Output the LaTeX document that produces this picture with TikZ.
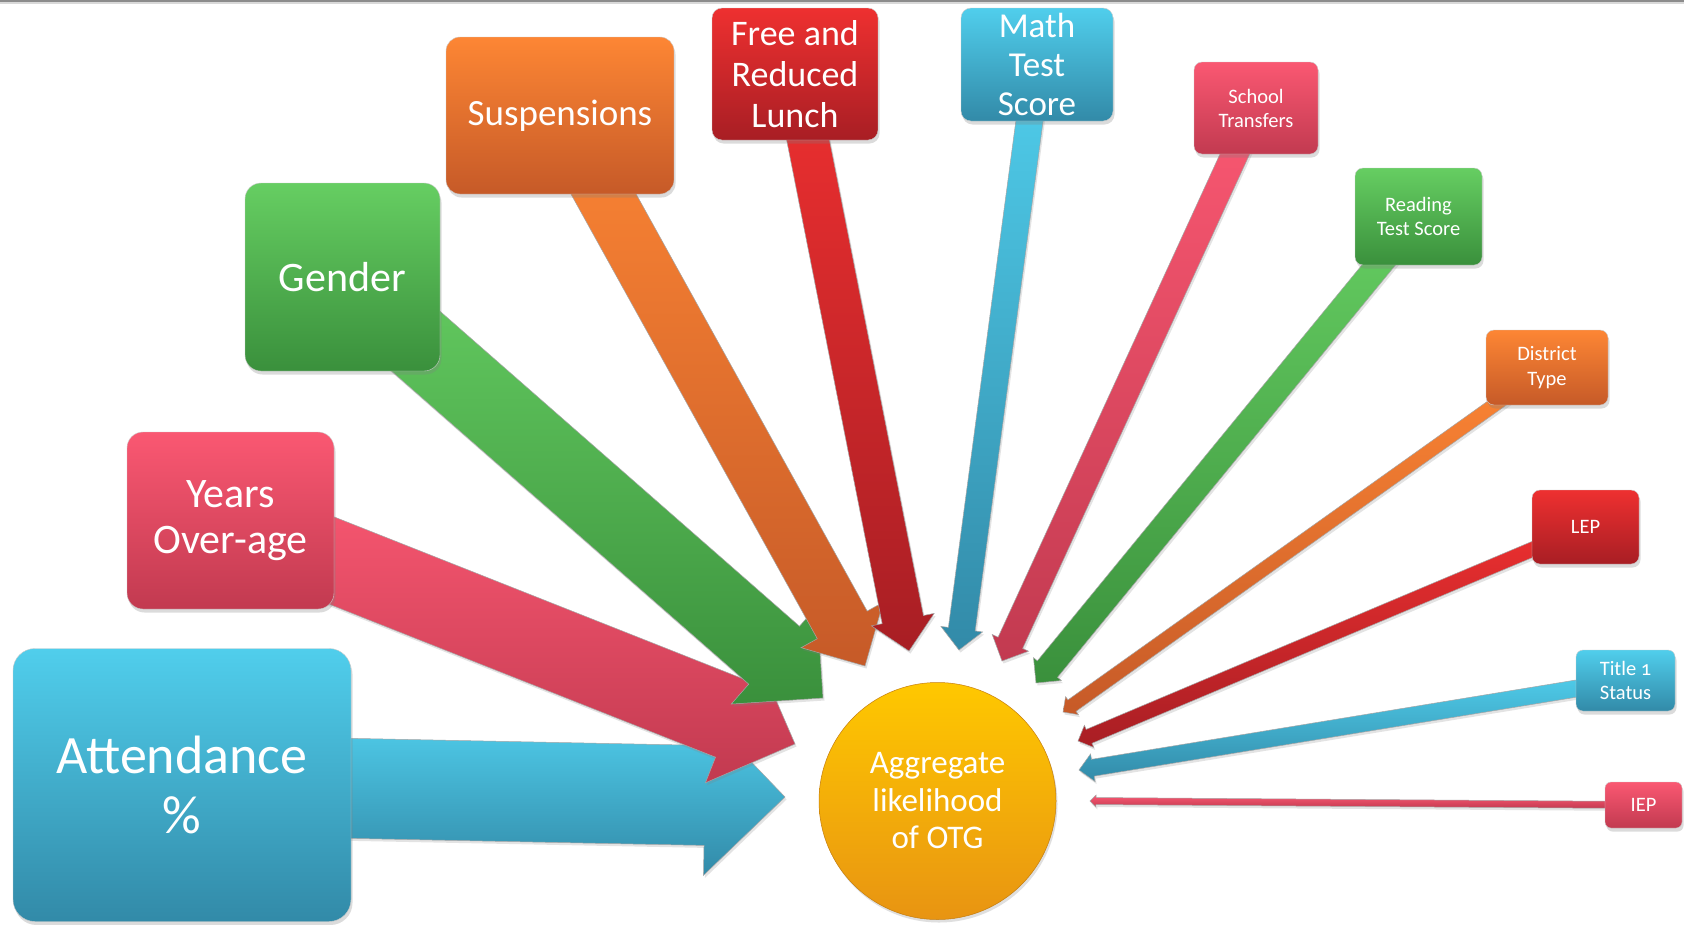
\documentclass[tikz,border=0pt]{standalone}
\usepackage{fontspec}
\setmainfont{Carlito}
\usetikzlibrary{calc,shadows}
\pgfdeclarelayer{arrows}
\pgfsetlayers{arrows,main}

\definecolor{blueT}{RGB}{80,206,236}
\definecolor{blueB}{RGB}{50,138,168}
\definecolor{pinkT}{RGB}{250,88,114}
\definecolor{pinkB}{RGB}{194,58,80}
\definecolor{greenT}{RGB}{102,206,98}
\definecolor{greenB}{RGB}{58,144,60}
\definecolor{orangeT}{RGB}{253,134,52}
\definecolor{orangeB}{RGB}{198,90,40}
\definecolor{redT}{RGB}{238,48,48}
\definecolor{redB}{RGB}{168,30,36}
\definecolor{goldT}{RGB}{255,200,0}
\definecolor{goldB}{RGB}{232,148,18}

\newcommand{\fs}[2]{\fontsize{#1}{#2}\selectfont}

% block arrow: #1 source node, #2 tip, #3 half shaft width, #4 head size, #5 style
\newcommand{\fatarrow}[5]{%
  \coordinate (fa-base) at ($(#2)!#4!(#1.center)$);
  \path[#5] ($(#1.center)!#3!90:(#2)$) -- ($(fa-base)!#3!90:(#2)$)
     -- ($(fa-base)!#4!90:(#2)$) -- (#2)
     -- ($(fa-base)!#4!-90:(#2)$) -- ($(fa-base)!#3!-90:(#2)$)
     -- ($(#1.center)!#3!-90:(#2)$) -- cycle;
}

\tikzset{
  factor/.style={inner sep=0pt, text=white, align=center,
    draw=black!20, line width=0.4pt,
    drop shadow={opacity=0.28, shadow xshift=1.5pt, shadow yshift=-3.5pt}},
  fillblue/.style={top color=blueT, bottom color=blueB},
  fillpink/.style={top color=pinkT, bottom color=pinkB},
  fillgreen/.style={top color=greenT, bottom color=greenB},
  fillorange/.style={top color=orangeT, bottom color=orangeB},
  fillred/.style={top color=redT, bottom color=redB},
  arr/.style={draw=black!35, line width=0.5pt,
    drop shadow={opacity=0.22, shadow xshift=1.5pt, shadow yshift=-2.5pt}},
}

\begin{document}
\begin{tikzpicture}[x=1pt, y=-1pt]
\useasboundingbox (0,0) rectangle (1684,924);

% outcome
\node[circle, minimum size=237pt, inner sep=0pt, top color=goldT, bottom color=goldB,
      draw=goldB!85!black, line width=0.5pt, text=white, align=center,
      font=\fs{33}{37.5},
      drop shadow={opacity=0.25, shadow xshift=1.5pt, shadow yshift=-3pt}]
      (otg) at (937.5,801) {Aggregate\\likelihood\\of OTG};

% factors
\node[factor, fillblue, minimum width=338pt, minimum height=273pt, rounded corners=22pt,
      font=\fs{54}{60}] (att) at (182,785) {Attendance\\\%};
\node[factor, fillpink, minimum width=207pt, minimum height=177pt, rounded corners=16pt,
      font=\fs{42}{46}] (yrs) at (230.5,520.5) {Years\\Over-age};
\node[factor, fillgreen, minimum width=195pt, minimum height=188pt, rounded corners=16pt,
      font=\fs{42}{46}] (gen) at (342.5,277) {Gender};
\node[factor, fillorange, minimum width=228pt, minimum height=157pt, rounded corners=14pt,
      font=\fs{37}{41}] (sus) at (560,115.5) {Suspensions};
\node[factor, fillred, minimum width=166pt, minimum height=132pt, rounded corners=10pt,
      font=\fs{36}{41}] (frl) at (795,74) {Free and\\Reduced\\Lunch};
\node[factor, fillblue, minimum width=152pt, minimum height=113pt, rounded corners=10pt,
      font=\fs{35}{39}] (mat) at (1037,64.5) {Math\\Test\\Score};
\node[factor, fillpink, minimum width=124pt, minimum height=92pt, rounded corners=8pt,
      font=\fs{20.5}{24}] (sch) at (1256,108) {School\\Transfers};
\node[factor, fillgreen, minimum width=127pt, minimum height=97pt, rounded corners=8pt,
      font=\fs{20.5}{24}] (rea) at (1418.5,216.5) {Reading\\Test Score};
\node[factor, fillorange, minimum width=122pt, minimum height=75pt, rounded corners=8pt,
      font=\fs{20.5}{25}] (dis) at (1547,367.5) {District\\Type};
\node[factor, fillred, minimum width=107pt, minimum height=74pt, rounded corners=8pt,
      font=\fs{20.5}{24}] (lep) at (1585.5,527) {LEP};
\node[factor, fillblue, minimum width=99pt, minimum height=61pt, rounded corners=7pt,
      font=\fs{20.5}{24}] (tit) at (1625.5,680.5)
      {Title {\addfontfeatures{Numbers=OldStyle}1}\\Status};
\node[factor, fillpink, minimum width=77pt, minimum height=46pt, rounded corners=6pt,
      font=\fs{20.5}{24}] (iep) at (1643.5,805) {IEP};

% arrow tips around the outcome
\coordinate (tAtt) at (785,797);
\coordinate (tYrs) at (795,744);
\coordinate (tGen) at (823,698);
\coordinate (tSus) at (865,666);
\coordinate (tFrl) at (909,651);
\coordinate (tMat) at (959,650);
\coordinate (tSch) at (1002,661);
\coordinate (tRea) at (1036,683);
\coordinate (tDis) at (1063,712);
\coordinate (tLep) at (1078,741);
\coordinate (tTit) at (1079,770);
\coordinate (tIep) at (1090,801);

\begin{pgfonlayer}{arrows}
  % page background and the thin rule along the top edge
  \fill[white] (0,0) rectangle (1684,924);
  \fill[black!45] (0,0) rectangle (1684,2);
  \fill[black!15] (0,2) rectangle (1684,4);

  \fatarrow{att}{tAtt}{50pt}{80pt}{arr, fillblue}
  \fatarrow{yrs}{tYrs}{41.5pt}{69pt}{arr, fillpink}
  \fatarrow{gen}{tGen}{38.5pt}{65pt}{arr, fillgreen}
  \fatarrow{sus}{tSus}{28.5pt}{47pt}{arr, fillorange}
  \fatarrow{frl}{tFrl}{21pt}{32pt}{arr, fillred}
  \fatarrow{mat}{tMat}{13.5pt}{21pt}{arr, fillblue}
  \fatarrow{sch}{tSch}{13.5pt}{20pt}{arr, fillpink}
  \fatarrow{rea}{tRea}{13pt}{18pt}{arr, fillgreen}
  \fatarrow{dis}{tDis}{7pt}{11pt}{arr, fillorange}
  \fatarrow{lep}{tLep}{7.5pt}{12pt}{arr, fillred}
  \fatarrow{tit}{tTit}{8.5pt}{14pt}{arr, fillblue}
  \fatarrow{iep}{tIep}{3.5pt}{6pt}{arr, fillpink}
\end{pgfonlayer}
\end{tikzpicture}
\end{document}
